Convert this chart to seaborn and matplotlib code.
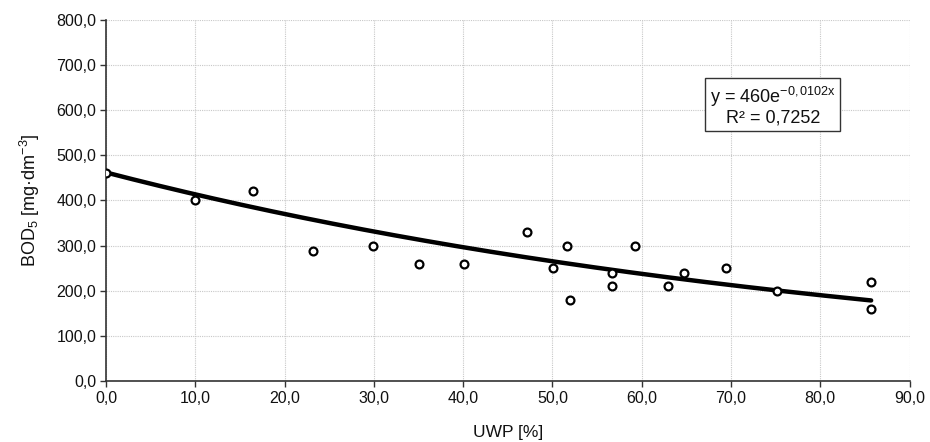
import numpy as np
import pandas as pd
import seaborn as sns
import matplotlib
matplotlib.use("Agg")
import matplotlib.pyplot as plt
from matplotlib.ticker import FuncFormatter, MultipleLocator

uwp = [0.0, 10.0, 16.5, 23.2, 29.9, 35.0, 40.1, 47.2, 50.1, 51.6, 52.0,
       56.7, 56.7, 59.3, 63.0, 64.7, 69.4, 75.1, 85.7, 85.7]
bod5 = [460, 400, 420, 288, 300, 259, 260, 330, 250, 300, 180,
        240, 210, 300, 210, 240, 250, 200, 220, 160]

# trendline (x, y)
trend_x = [0.0, 10.0, 30.0, 50.0, 75.0, 85.7]
trend_y = [460, 413, 332, 268, 200, 178]

# equation text printed on the chart
fit_a = 460
fit_b = -0.0102
fit_r2 = 0.7252


def comma(v, pos=None):
    return f"{v:.1f}".replace(".", ",")


def main():
    sns.set_style("whitegrid")
    plt.rcParams["font.family"] = ["Liberation Sans", "DejaVu Sans"]
    plt.rcParams["mathtext.fontset"] = "custom"
    plt.rcParams["mathtext.rm"] = "Liberation Sans"
    plt.rcParams["mathtext.it"] = "Liberation Sans:italic"

    df = pd.DataFrame({"UWP": uwp, "BOD5": bod5})
    # smooth the read-off trendline with an exponential through its points
    b, log_a = np.polyfit(trend_x, np.log(trend_y), 1)
    xs = np.linspace(trend_x[0], trend_x[-1], 200)
    trend = pd.DataFrame({"UWP": xs, "BOD5": np.exp(log_a) * np.exp(b * xs)})

    fig = plt.figure(figsize=(9.30, 4.42), dpi=100)
    ax = fig.add_axes([0.114, 0.138, 0.864, 0.817])

    sns.lineplot(data=trend, x="UWP", y="BOD5", ax=ax, color="black", lw=3.2, zorder=3)
    sns.scatterplot(data=df, x="UWP", y="BOD5", ax=ax, marker="o", s=32,
                    facecolor="white", edgecolor="black", linewidth=1.6, zorder=4)

    ax.set_xlim(0, 90)
    ax.set_ylim(0, 800)
    ax.xaxis.set_major_locator(MultipleLocator(10))
    ax.yaxis.set_major_locator(MultipleLocator(100))
    ax.xaxis.set_major_formatter(FuncFormatter(comma))
    ax.yaxis.set_major_formatter(FuncFormatter(comma))

    ax.grid(True, color="#c8c8c8", linestyle=(0, (1, 1)), linewidth=0.8)
    for side in ["top", "right"]:
        ax.spines[side].set_visible(False)
    for side in ["left", "bottom"]:
        ax.spines[side].set_color("#333333")
        ax.spines[side].set_linewidth(1.2)
    ax.tick_params(axis="both", which="major", direction="out", length=4, width=1,
                   color="#333333", labelsize=11.5, labelcolor="#111111", pad=3, left=True, bottom=True)

    ax.set_xlabel("UWP [%]", fontsize=12.5, color="#111111", labelpad=14)
    ax.set_ylabel(r"BOD$_{\mathregular{5}}$ [mg·dm$^{\mathregular{-3}}$]", fontsize=13,
                  color="#111111", labelpad=10)

    eq = (f"y = {fit_a}e$^{{\\mathregular{{{fit_b:.4f}x}}}}$".replace(".", ",")
          + "\n" + f"R² = {fit_r2:.4f}".replace(".", ","))
    ax.text(0.83, 0.762, eq, transform=ax.transAxes, ha="center", va="center",
            fontsize=13, linespacing=1.05, color="#111111", zorder=5,
            bbox=dict(boxstyle="square,pad=0.25", facecolor="white", edgecolor="#333333", linewidth=1))

    fig.savefig("out.png", dpi=100)


if __name__ == "__main__":
    main()
